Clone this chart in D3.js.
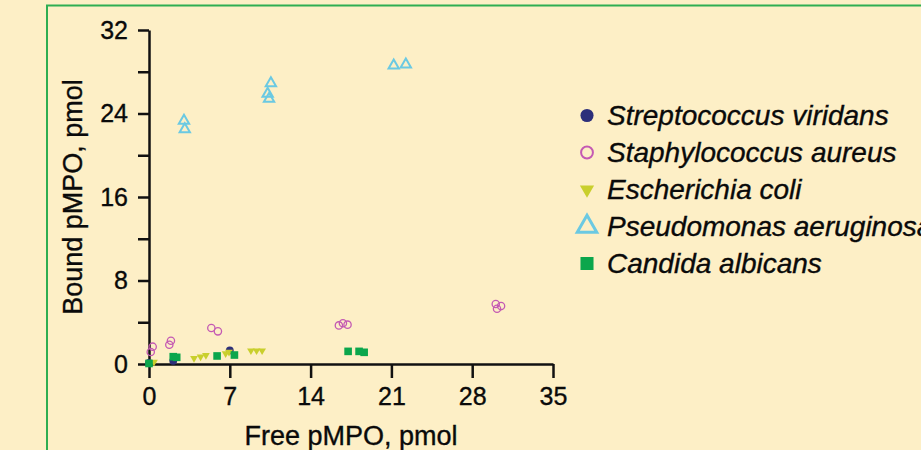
<!DOCTYPE html>
<meta charset="utf-8" />
<head>
  <script src="https://d3js.org/d3.v7.min.js"></script>
  <style>
    body { margin: 0; background: #fdefc6; }
    svg text {
      font-family: "Liberation Sans", Arial, Helvetica, sans-serif;
      fill: #0a0a0a;
      stroke: #0a0a0a;
      stroke-width: 0.35px;
    }
  </style>
</head>
<body>
  <div id="my_data"></div>
</body>
<script>
  // series values (free pMPO, bound pMPO; pmol)
  var strepX = [0.0, 2.1, 7.0];
  var strepY = [0.1, 0.3, 1.3];
  var staphX = [0.32, 0.15, 1.9, 1.76, 5.4, 5.97, 16.45, 16.8, 17.2, 30.04, 30.5, 30.15];
  var staphY = [1.66, 1.15, 2.23, 1.85, 3.45, 3.13, 3.7, 3.9, 3.77, 5.75, 5.55, 5.3];
  var ecoliX = [0.43, 3.9, 4.47, 4.93, 6.64, 6.93, 8.83, 9.32, 9.8];
  var ecoliY = [0.2, 0.55, 0.7, 0.83, 1.0, 1.15, 1.28, 1.28, 1.28];
  var pseudoX = [3.03, 3.1, 10.56, 10.28, 10.4, 21.2, 22.25];
  var pseudoY = [23.3, 22.5, 26.9, 25.9, 25.4, 28.6, 28.7];
  var candX = [0.0, 2.1, 2.4, 5.9, 7.4, 17.25, 18.2, 18.64];
  var candY = [0.05, 0.7, 0.64, 0.77, 0.86, 1.21, 1.21, 1.12];

  var xTicks = [0, 7, 14, 21, 28, 35];
  var yTicks = [0, 4, 8, 12, 16, 20, 24, 28, 32];
  var yLabels = [0, 8, 16, 24, 32];

  var names = [
    "Streptococcus viridans",
    "Staphylococcus aureus",
    "Escherichia coli",
    "Pseudomonas aeruginosa",
    "Candida albicans",
  ];

  var W = 921, H = 450;

  var svg = d3
    .select("#my_data")
    .append("svg")
    .attr("width", W)
    .attr("height", H);

  svg.append("rect").attr("width", W).attr("height", H).attr("fill", "#fdefc6");

  // green frame running off the right and bottom edges
  svg
    .append("path")
    .attr("d", "M47,460V5.5H930")
    .attr("fill", "none")
    .attr("stroke", "#2fae52")
    .attr("stroke-width", 2);

  var x = d3.scaleLinear().domain([0, 35]).range([149, 553]);
  var y = d3.scaleLinear().domain([0, 32]).range([364, 30]);

  // axes
  var gx = svg
    .append("g")
    .attr("transform", "translate(0," + y(0) + ")")
    .call(
      d3.axisBottom(x).tickValues(xTicks).tickSize(14).tickSizeOuter(0).tickPadding(9)
    );
  gx.selectAll("text").style("font-size", "25px");

  var gy = svg
    .append("g")
    .attr("transform", "translate(" + x(0) + ",0)")
    .call(
      d3
        .axisLeft(y)
        .tickValues(yTicks)
        .tickSize(11)
        .tickSizeOuter(0)
        .tickPadding(10)
        .tickFormat(function (d) {
          return yLabels.indexOf(d) >= 0 ? d : "";
        })
    );
  gy.selectAll("text").style("font-size", "25px");

  svg.selectAll(".domain, .tick line").attr("stroke", "#111").attr("stroke-width", 2.5);

  // axis titles
  svg
    .append("text")
    .attr("x", x(17.5))
    .attr("y", 445)
    .style("text-anchor", "middle")
    .style("font-size", "27px")
    .text("Free pMPO, pmol");

  svg
    .append("text")
    .attr("transform", "translate(82," + y(16) + ") rotate(-90)")
    .style("text-anchor", "middle")
    .style("font-size", "27px")
    .text("Bound pMPO, pmol");

  // symbol styles per series
  var series = [
    { xs: strepX, ys: strepY, type: d3.symbolCircle, rot: 0, fill: "#2d2f7a", stroke: "none", sw: 0, size: 48, lsize: 135, lsw: 0 },
    { xs: staphX, ys: staphY, type: d3.symbolCircle, rot: 0, fill: "none", stroke: "#c45ab3", sw: 1.3, size: 42, lsize: 110, lsw: 2 },
    { xs: ecoliX, ys: ecoliY, type: d3.symbolTriangle, rot: 180, fill: "#c9cf2d", stroke: "none", sw: 0, size: 26, lsize: 88, lsw: 0 },
    { xs: pseudoX, ys: pseudoY, type: d3.symbolTriangle, rot: 0, fill: "none", stroke: "#6bc9e2", sw: 2, size: 46, lsize: 165, lsw: 3 },
    { xs: candX, ys: candY, type: d3.symbolSquare, rot: 0, fill: "#0ba64c", stroke: "none", sw: 0, size: 58, lsize: 170, lsw: 0 },
  ];

  var plot = svg.append("g");
  series.forEach(function (s) {
    plot
      .append("g")
      .selectAll("path")
      .data(s.xs)
      .enter()
      .append("path")
      .attr("d", d3.symbol().type(s.type).size(s.size))
      .attr("transform", function (d, i) {
        return "translate(" + x(d) + "," + y(s.ys[i]) + ") rotate(" + s.rot + ")";
      })
      .attr("fill", s.fill)
      .attr("stroke", s.stroke)
      .attr("stroke-width", s.sw);
  });

  // legend
  var legend = svg
    .selectAll(".leg")
    .data(series)
    .enter()
    .append("g")
    .attr("class", "leg")
    .attr("transform", function (d, i) {
      return "translate(587," + (115.5 + i * 37) + ")";
    });

  legend
    .append("path")
    .attr("d", function (d) {
      return d3.symbol().type(d.type).size(d.lsize)();
    })
    .attr("transform", function (d) {
      return "rotate(" + d.rot + ")";
    })
    .attr("fill", function (d) { return d.fill; })
    .attr("stroke", function (d) { return d.stroke; })
    .attr("stroke-width", function (d) { return d.lsw; });

  legend
    .append("text")
    .attr("x", 20)
    .attr("y", 9.5)
    .style("font-size", "28px")
    .style("font-style", "italic")
    .text(function (d, i) {
      return names[i];
    });
</script>
